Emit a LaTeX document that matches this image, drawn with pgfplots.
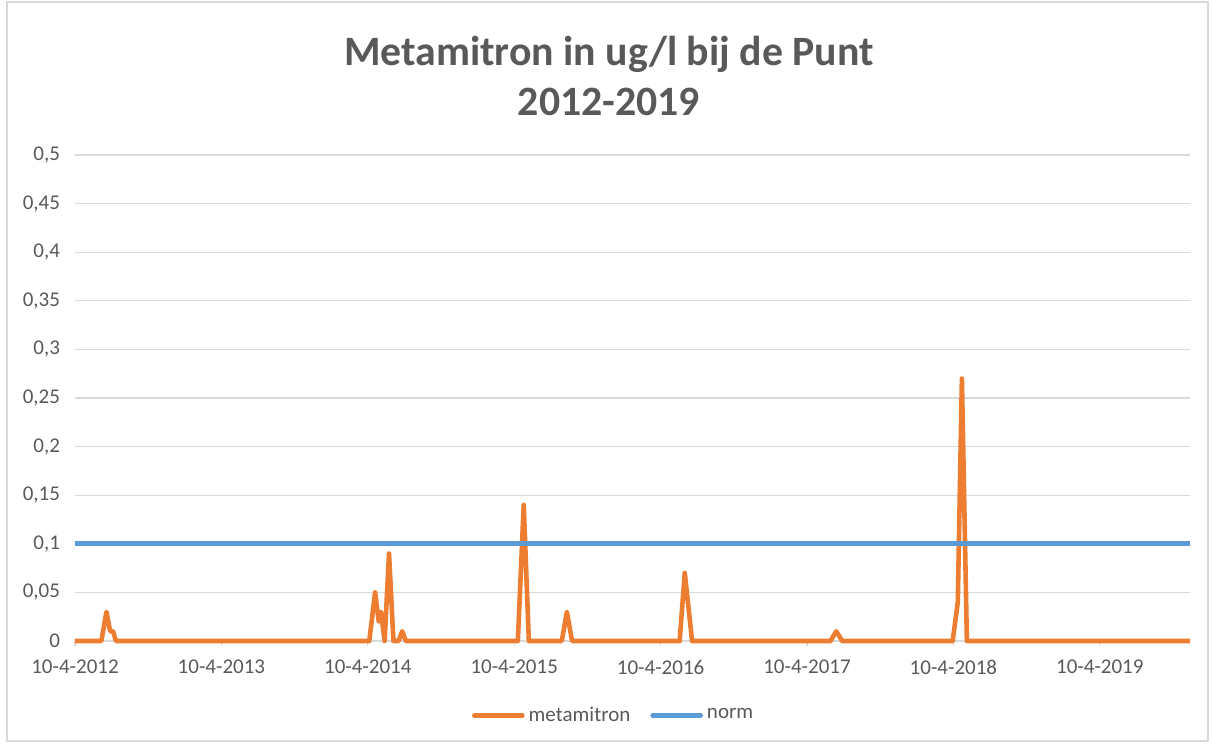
\documentclass[border=0pt]{standalone}
\usepackage{fontspec}
\setmainfont{Carlito}
\usepackage{pgfplots}
\pgfplotsset{compat=1.18}

\definecolor{meta}{HTML}{ED7D31}
\definecolor{normc}{HTML}{5B9BD5}
\definecolor{txt}{HTML}{595959}
\definecolor{grd}{HTML}{D9D9D9}

\begin{document}
\begin{tikzpicture}
% outer chart frame / page size
\path[use as bounding box] (-37.5pt,-51.5pt) rectangle (568.5pt,320.5pt);
\draw[grd, line width=0.6pt] (-34pt,-50pt) rectangle (566.5pt,319.5pt);

\begin{axis}[
    at={(0,0)}, anchor=south west,
    scale only axis,
    width=557.5pt, height=243pt,
    xmin=0, xmax=7.616,
    ymin=0, ymax=0.5,
    clip=false,
    axis line style={draw=none},
    axis x line*=bottom,
    xtick={0,1,2,3,4,5,6,7},
    xticklabels={10-4-2012,10-4-2013,10-4-2014,10-4-2015,10-4-2016,10-4-2017,10-4-2018,10-4-2019},
    ytick={0,0.05,0.1,0.15,0.2,0.25,0.3,0.35,0.4,0.45,0.5},
    ymajorgrids=true,
    grid style={grd, line width=0.6pt},
    tick align=outside,
    major tick length=2.5pt,
    xtick style={grd, line width=0.6pt},
    ytick style={draw=none},
    tick label style={font=\fontsize{10.5}{12}\selectfont, text=txt},
    xticklabel style={yshift=-3.5pt},
    yticklabel style={xshift=-1.5pt},
    /pgf/number format/assume math mode=true,
    /pgf/number format/use comma,
    /pgf/number format/fixed,
    /pgf/number format/precision=2,
    legend style={at={(0.484,-0.153)}, anchor=center, draw=none, fill=none,
                  legend columns=-1, font=\fontsize{10.5}{12}\selectfont, text=txt,
                  /tikz/every even column/.append style={column sep=8pt}},
    legend image code/.code={\draw[#1, line cap=round] (0pt,0pt) -- (24pt,0pt);},
]
\addplot[meta, line width=2.3pt, line join=round] coordinates {
(0,0) (0.18,0) (0.215,0.03) (0.24,0.01) (0.26,0.01) (0.28,0)
(2.01,0) (2.05,0.05) (2.075,0.02) (2.09,0.03) (2.115,0) (2.145,0.09) (2.175,0)
(2.21,0) (2.235,0.01) (2.26,0)
(3.025,0) (3.065,0.14) (3.10,0)
(3.325,0) (3.36,0.03) (3.395,0)
(4.13,0) (4.165,0.07) (4.215,0)
(5.16,0) (5.20,0.01) (5.24,0)
(5.995,0) (6.03,0.04) (6.058,0.27) (6.092,0)
(7.616,0)
};
\addlegendentry{metamitron}
\addplot[normc, line width=2.3pt] coordinates {(0,0.1) (7.616,0.1)};
\addlegendentry{norm}
\end{axis}

\node[align=center, text=txt, font=\fontsize{20.9}{25}\selectfont\bfseries]
  at (267pt,282.5pt) {Metamitron in ug/l bij de Punt\\2012-2019};
\end{tikzpicture}
\end{document}
